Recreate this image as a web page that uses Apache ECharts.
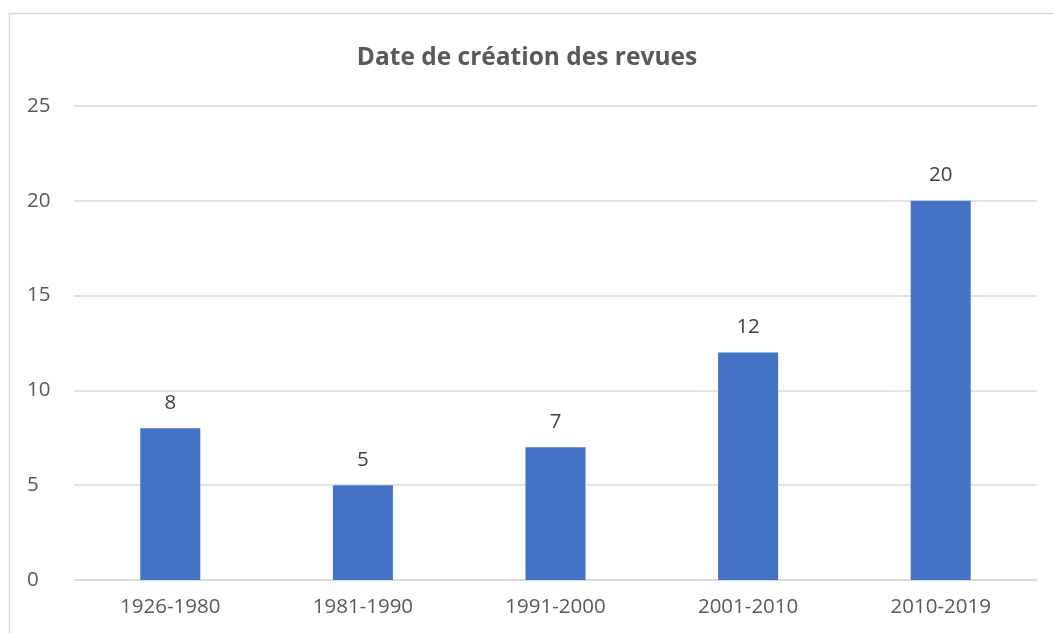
<!DOCTYPE html>
<html lang="fr">

<head>
  <meta charset="UTF-8">
  <title>Date de création des revues</title>
  <script src="https://cdn.jsdelivr.net/npm/echarts@6/dist/echarts.min.js"></script>
  <style>
    * {
      padding: 0;
      margin: 0;
    }

    #main {
      width: 1054px;
      height: 633px;
    }
  </style>
</head>

<body>
  <div id="main"></div>
  <script>
    // periodes et nombre de revues
    const periodes = ['1926-1980', '1981-1990', '1991-2000', '2001-2010', '2010-2019'];
    const revues = [8, 5, 7, 12, 20];

    var chartDom = document.getElementById('main');
    var myChart = echarts.init(chartDom);
    var option;

    option = {
      textStyle: { fontFamily: 'Open Sans' },
      title: {
        text: 'Date de création des revues',
        left: 'center',
        top: 41,
        textStyle: {
          color: '#595959',
          fontSize: 24.5,
          fontWeight: 'bold',
          fontFamily: 'Open Sans'
        }
      },
      graphic: [
        {
          type: 'rect',
          shape: { x: 9.5, y: 13.5, width: 1100, height: 700 },
          style: { fill: 'none', stroke: '#d9d9d9', lineWidth: 1.5 },
          silent: true
        }
      ],
      grid: {
        left: 74,
        right: 17,
        top: 106,
        bottom: 53
      },
      xAxis: {
        type: 'category',
        data: periodes,
        axisTick: { show: false },
        axisLine: { lineStyle: { color: '#d9d9d9', width: 1.5 } },
        axisLabel: {
          color: '#595959',
          fontSize: 20.5,
          margin: 17
        }
      },
      yAxis: {
        type: 'value',
        min: 0,
        max: 25,
        interval: 5,
        axisLine: { show: false },
        axisTick: { show: false },
        splitLine: { lineStyle: { color: '#d9d9d9', width: 1.5 } },
        axisLabel: {
          color: '#595959',
          fontSize: 20.5,
          margin: 47,
          align: 'left'
        }
      },
      series: [
        {
          name: 'Revues',
          type: 'bar',
          data: revues,
          barWidth: 60,
          itemStyle: { color: '#4472c4' },
          label: {
            show: true,
            position: 'top',
            distance: 15,
            color: '#404040',
            fontSize: 20.5
          }
        }
      ]
    };

    option && myChart.setOption(option);
  </script>
</body>

</html>
